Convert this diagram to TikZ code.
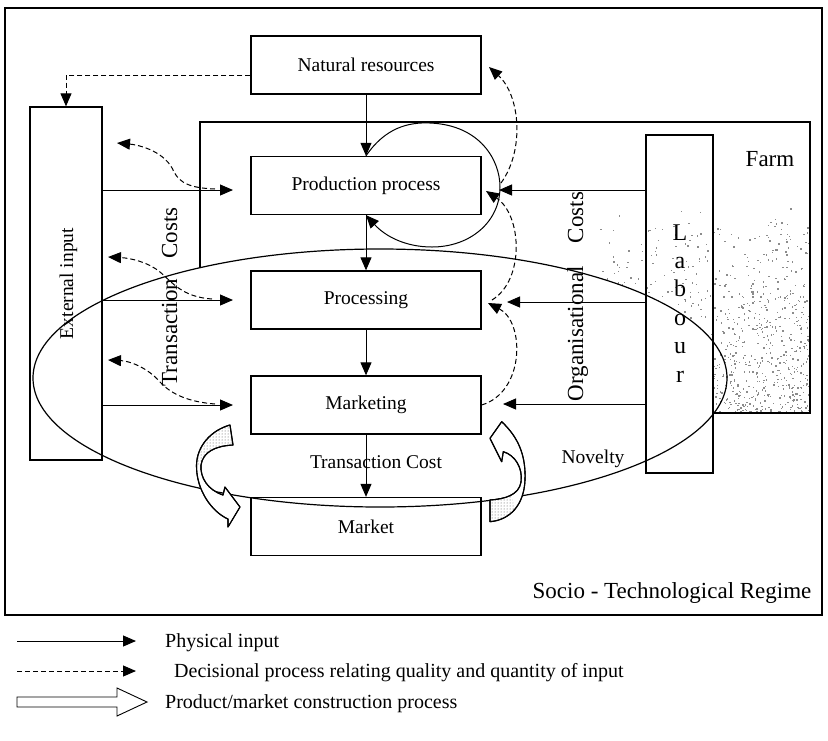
\documentclass[tikz,border=0pt]{standalone}
\usepackage{fontspec}
\setmainfont{Liberation Serif}
\usetikzlibrary{arrows.meta,patterns}
\newcommand\boxfont{\fontsize{19.5}{23}\selectfont}
\newcommand\bigfont{\fontsize{23}{27}\selectfont}
\newcommand\labfont{\fontsize{24}{28}\selectfont}
\newcommand\legfont{\fontsize{20}{24}\selectfont}
\begin{document}
\begin{tikzpicture}[x=1pt,y=-1pt,
  box/.style={draw, line width=1.3pt, minimum width=230pt, minimum height=58pt, inner sep=0pt, font=\boxfont},
  tall/.style={draw, line width=1.3pt, inner sep=0pt},
  phys/.style={line width=1pt, -{Triangle[length=13pt,width=11pt]}},
  dec/.style={line width=1pt, dash pattern=on 5pt off 3pt, -{Triangle[length=13pt,width=11pt]}},
  ribbon/.style={draw, line width=1.1pt, fill=white, line join=round},
  underside/.style={pattern=dots, pattern color=black!70},
  stip/.style={fill=black!45},
  lbl/.style={anchor=base, inner sep=0pt},
]
\useasboundingbox (0,0) rectangle (828,740);

% speckled ground around the labour column
\pgfmathsetseed{4242}
\foreach \k in {1,...,3200}{%
  \pgfmathsetmacro\sx{600+210*rnd}%
  \pgfmathsetmacro\sy{200+213*rnd}%
  \pgfmathsetmacro\ex{(\sx-380)/347}%
  \pgfmathsetmacro\ey{(\sy-378)/129}%
  \pgfmathtruncatemacro\keep{and(rnd < (\sy-200)/213*(0.2+0.8*(\sx-600)/210), or(\sx>713, \ex*\ex+\ey*\ey>1))}%
  \ifnum\keep=1 \fill[stip] (\sx,\sy) rectangle ++(1.4,1.4);\fi
}

% outer frame and farm outline
\draw[line width=1.4pt] (5,8) rectangle (822,615);
\draw[line width=1.3pt] (200,268) -- (200,122) -- (810,122) -- (810,413) -- (713,413);

% process chain
\node[box] (natres) at (366,65)    {Natural resources};
\node[box] (prod)   at (366,185.5) {Production process};
\node[box] (proc)   at (366,300)   {Processing};
\node[box] (mark)   at (366,405)   {Marketing};
\node[box] (market) at (366,526.5) {Market};

% side columns
\node[tall, minimum width=72pt, minimum height=353pt] (ext) at (66,283.5) {};
\node[lbl, rotate=90, font=\boxfont] (extlbl) at (73,283.5) {External input};
\node[tall, minimum width=67pt, minimum height=338pt] (labour) at (679.5,304) {};
\foreach \c [count=\i from 0] in {L,a,b,o,u,r}
  \node[lbl, font=\labfont] (lab\i) at (680,{240+28.4*\i}) {\c};

% physical flows down the chain
\draw[phys] (natres) -- (prod);
\draw[phys] (prod) -- (proc);
\draw[phys] (proc) -- (mark);
\draw[phys] (mark) -- (market);

% feedback loop on the production process
\draw[phys] (prod.north) .. controls (385,128) and (408,122) .. (430,123)
  .. controls (480,125) and (500,160) .. (500,187)
  .. controls (500,222) and (470,247) .. (432,247)
  .. controls (405,247) and (385,236) .. (prod.south);

% external inputs
\coordinate (tL1) at (233,190);
\coordinate (tL2) at (233,300);
\coordinate (tL3) at (233,405);
\draw[phys] (ext.east |- tL1) -- (tL1);
\draw[phys] (ext.east |- tL2) -- (tL2);
\draw[phys] (ext.east |- tL3) -- (tL3);

% labour inputs
\coordinate (tR1) at (499,190);
\coordinate (tR2) at (507,302);
\coordinate (tR3) at (503,404);
\draw[phys] (labour.west |- tR1) -- (tR1);
\draw[phys] (labour.west |- tR2) -- (tR2);
\draw[phys] (labour.west |- tR3) -- (tR3);

% decisional feedback on the right
\coordinate (dA) at (489,67);
\coordinate (sA) at (501,183);
\coordinate (dB) at (486,191);
\coordinate (sB) at (492,300);
\coordinate (dC) at (488,303);
\draw[dec] (sA) .. controls (525,150) and (520,95) .. (dA);
\draw[dec] (sB) .. controls (525,280) and (522,215) .. (dB);
\draw[dec] (mark.east) .. controls (525,392) and (525,322) .. (dC);

% decisional feedback on the left
\coordinate (eA) at (117,143);
\coordinate (eB) at (108,257);
\coordinate (eC) at (108,360);
\draw[dec] (215,189) .. controls (190,188) and (180,183) .. (174,172)
  .. controls (166,152) and (140,145) .. (eA);
\draw[dec] (212,299) .. controls (182,297) and (172,282) .. (160,272)
  .. controls (148,262) and (130,258) .. (eB);
\draw[dec] (215,404) .. controls (190,402) and (172,395) .. (160,382)
  .. controls (148,368) and (130,361) .. (eC);
\draw[dec] ([yshift=-10pt]natres.west) -| (ext.north);

% socio-technological regime
\draw[line width=1.2pt] (380,378) ellipse [x radius=347, y radius=129];

% product/market construction ribbons
\path[ribbon] (230,425) .. controls (212,430) and (197,445) .. (196.5,465)
  .. controls (196,490) and (212,512) .. (228,519)
  -- (228,527) -- (240,507) -- (225,487) -- (223,495)
  .. controls (208,490) and (200,478) .. (201,465)
  .. controls (203,452) and (215,446) .. (233,445) -- cycle;
\path[underside] (230,425) .. controls (212,430) and (197,445) .. (196.5,465)
  -- (201,465) .. controls (203,452) and (215,446) .. (233,445) -- cycle;
\draw[line width=1.1pt, line join=round] (230,425) .. controls (212,430) and (197,445) .. (196.5,465)
  .. controls (196,490) and (212,512) .. (228,519)
  -- (228,527) -- (240,507) -- (225,487) -- (223,495)
  .. controls (208,490) and (200,478) .. (201,465)
  .. controls (203,452) and (215,446) .. (233,445) -- cycle;

\path[ribbon] (503.3,451.7) .. controls (515,455) and (523,468) .. (521,482)
  .. controls (519,495) and (505,499) .. (490,500) -- (490,521.7)
  .. controls (510,520) and (524,505) .. (525,480)
  .. controls (526,455) and (518,437) .. (501.7,421.7)
  -- (490,438.3) -- (501.7,461.7) -- cycle;
\path[underside] (490,500) -- (490,521.7) .. controls (500,521) and (508,517) .. (514,511)
  -- (512,493) .. controls (505,498) and (498,499.5) .. (490,500) -- cycle;
\draw[line width=1.1pt, line join=round] (503.3,451.7) .. controls (515,455) and (523,468) .. (521,482)
  .. controls (519,495) and (505,499) .. (490,500) -- (490,521.7)
  .. controls (510,520) and (524,505) .. (525,480)
  .. controls (526,455) and (518,437) .. (501.7,421.7)
  -- (490,438.3) -- (501.7,461.7) -- cycle;

% labels
\node[lbl, font=\bigfont] (farm) at (770,166) {Farm};
\node[lbl, rotate=90, font=\bigfont] (tcosts) at (177,297) {Transaction\hspace{20pt}Costs};
\node[lbl, rotate=90, font=\bigfont] (ocosts) at (583,296.5) {Organisational\hspace{23pt}Costs};
\node[lbl, font=\boxfont] (tcost) at (376,468) {Transaction Cost};
\node[lbl, font=\boxfont] (novelty) at (593,463) {Novelty};
\node[lbl, font=\bigfont] (regime) at (672,598) {Socio - Technological Regime};

% legend
\coordinate (la) at (17,641);
\coordinate (lb) at (136,641);
\coordinate (lc) at (17,671);
\coordinate (ld) at (136,671);
\draw[phys] (la) -- (lb);
\draw[dec] (lc) -- (ld);
\draw[line width=0.9pt, line join=miter] (17,697) -- (117,697) -- (117,688) -- (147,702)
  -- (117,716) -- (117,707) -- (17,707) -- cycle;
\node[lbl, anchor=base west, font=\legfont] (leg1) at (165,647) {Physical input};
\node[lbl, anchor=base west, font=\legfont] (leg2) at (174,677) {Decisional process relating quality and quantity of input};
\node[lbl, anchor=base west, font=\legfont] (leg3) at (165,708) {Product/market construction process};
\end{tikzpicture}
\end{document}
